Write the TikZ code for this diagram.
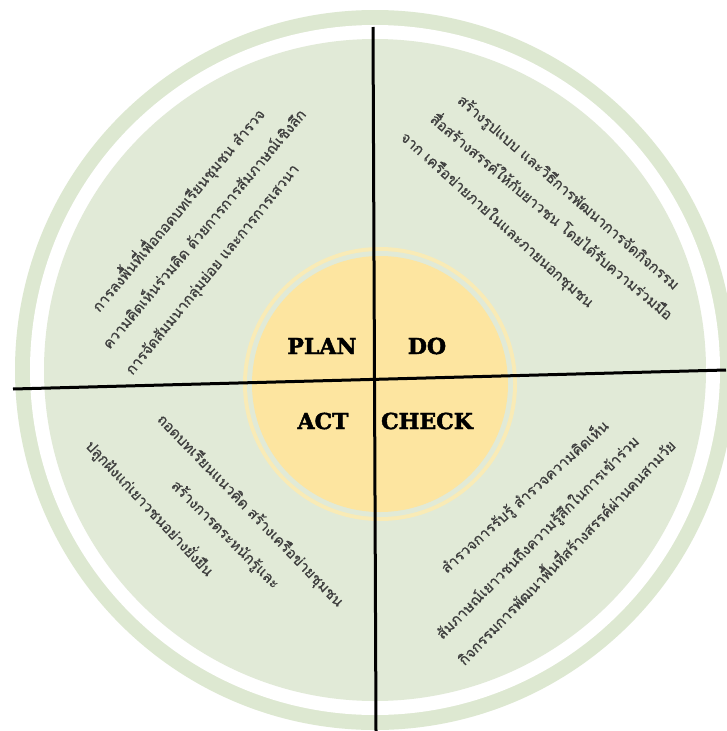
\documentclass[tikz,border=0pt]{standalone}
\usepackage{fontspec}
\newfontfamily\thaifont[Script=Thai,FakeBold=0.8]{Loma}
\newfontfamily\slabfont[BoldFeatures={FakeBold=2}]{DejaVu Serif}
\definecolor{ringgreen}{HTML}{DDE8D1}
\definecolor{diskgreen}{HTML}{E1EAD7}
\definecolor{sun}{HTML}{FDE5A0}
\definecolor{sunring}{HTML}{F9EBB6}
\definecolor{thaigray}{HTML}{3E3E3E}
\begin{document}
\begin{tikzpicture}[x=1pt,y=-1pt,
  thaitext/.style={font=\thaifont\fontsize{14.7}{17}\selectfont, text=thaigray, inner sep=0pt},
  phase/.style={font=\slabfont\bfseries\fontsize{22}{26}\selectfont, inner sep=0pt},
  divider/.style={line width=3pt, black}]
\useasboundingbox (0,0) rectangle (726,731);
\fill[white] (0,0) rectangle (726,731);
% rings and disks
\fill[ringgreen] (375,370) circle (360);
\fill[white] (375,370) circle (345);
\fill[diskgreen] (375,370) circle (331);
\fill[sunring] (380,384) circle (137);
\fill[diskgreen] (380,384) circle (133);
\fill[sun] (380,384) circle (128);
% dividers
\coordinate (vtop) at (373,27);
\coordinate (vbot) at (376,731);
\coordinate (hleft) at (13,389);
\coordinate (hright) at (726,370);
\draw[divider] (vtop) -- (vbot);
\draw[divider] (hleft) -- (hright);
% phase labels
\node[phase] (plan) at (322,346) {PLAN};
\node[phase] (do) at (427,346) {DO};
\node[phase] (act) at (323,421) {ACT};
\node[phase] (check) at (427,421) {CHECK};
% PLAN texts
\node[thaitext, rotate=50] (plan1) at (178,210) {การลงพื้นที่เพื่อถอดบทเรียนชุมชน สำรวจ};
\node[thaitext, rotate=50] (plan2) at (203,228) {ความคิดเห็นร่วมคิด ด้วยการการสัมภาษณ์เชิงลึก};
\node[thaitext, rotate=51] (plan3) at (213,270) {การจัดสัมมนากลุ่มย่อย และการการเสวนา};
% DO texts
\node[thaitext, rotate=-41] (do1) at (568,193) {สร้างรูปแบบ และวิธีการพัฒนาการจัดกิจกรรม};
\node[thaitext, rotate=-40] (do2) at (553,215) {สื่อสร้างสรรค์ให้กับยาวชน โดยได้รับความร่วมมือ};
\node[thaitext, rotate=-42] (do3) at (497,220) {จาก เครือข่ายภายในและภายนอกชุมชน};
% ACT texts
\node[thaitext, rotate=-46] (act1) at (250,511) {ถอดบทเรียนแนวคิด สร้างเครือข่ายชุมชน};
\node[thaitext, rotate=-45] (act2) at (225,535) {สร้างการตระหนักรู้และ};
\node[thaitext, rotate=-47] (act3) at (150,508) {ปลูกฝังแก่เยาวชนอย่างยั่งยืน};
% CHECK texts
\node[thaitext, rotate=42] (chk1) at (525,497) {สำรวจการรับรู้ สำรวจความคิดเห็น};
\node[thaitext, rotate=45] (chk2) at (538,538) {สัมภาษณ์เยาวชนถึงความรู้สึกในการเข้าร่วม};
\node[thaitext, rotate=46] (chk3) at (565,551) {กิจกรรมการพัฒนาพื้นที่สร้างสรรค์ผ่านคนสามวัย};
\end{tikzpicture}
\end{document}
